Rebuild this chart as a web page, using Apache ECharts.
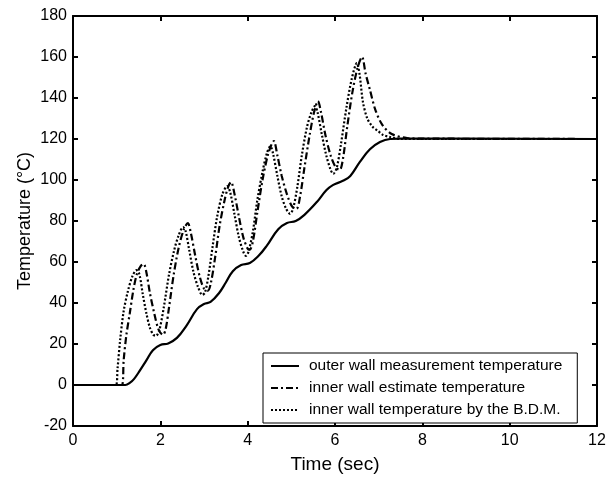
<!DOCTYPE html>
<html>
<head>
<meta charset="utf-8">
<script src="https://cdn.jsdelivr.net/npm/echarts@6/dist/echarts.min.js"></script>
<style>html,body{margin:0;padding:0;background:#fff;}#c{width:616px;height:479px;}</style>
</head>
<body>
<div id="c"></div>
<script>
const xTicks = [0, 2, 4, 6, 8, 10, 12];
const yTicks = [-20, 0, 20, 40, 60, 80, 100, 120, 140, 160, 180];
const seriesNames = [
  'outer wall measurement temperature',
  'inner wall estimate temperature',
  'inner wall temperature by the B.D.M.'
];
const outerWall = [
  [0,0],[1.2,0],[1.3,1],[1.4,3],[1.53,7],[1.68,12],[1.83,17],[2.0,19.5],[2.18,20.3],[2.38,23],[2.6,29],
  [2.84,37],[3.0,39.5],[3.15,40.5],[3.35,45],[3.5,50],[3.66,55.5],[3.85,58.5],[4.05,59.5],[4.25,63],
  [4.44,68],[4.7,76],[4.9,79],[5.1,80],[5.3,83],[5.59,89.4],[5.8,95],[5.95,97.5],[6.18,99.6],
  [6.35,102],[6.57,108.8],[6.8,115],[7.03,118.5],[7.26,120],[7.5,120.2],[12,120]
];
const innerEstimate = [
  [0,0],[1.12,0],[1.16,12],[1.22,24],[1.3,35],[1.38,46],[1.46,54],[1.55,58],[1.62,59],[1.68,55],
  [1.76,45],[1.86,35],[1.96,27],[2.06,24.5],[2.12,27],[2.2,38],[2.3,53],[2.42,67],[2.54,76],[2.63,79],
  [2.7,74],[2.8,63],[2.9,53],[3.0,47],[3.09,46],[3.16,50],[3.26,63],[3.36,78],[3.48,91],[3.56,97],
  [3.62,99],[3.7,93],[3.8,82],[3.9,72],[4.0,66.5],[4.05,66],[4.12,70],[4.22,84],[4.34,100],[4.46,112],
  [4.55,117.5],[4.6,119],[4.68,112],[4.78,102],[4.9,93],[5.02,87],[5.12,86],[5.2,92],[5.3,106],
  [5.42,122],[5.52,133],[5.61,138.5],[5.68,133],[5.78,122],[5.9,112],[6.02,106],[6.11,105],[6.18,110],
  [6.28,126],[6.4,143],[6.52,155],[6.62,160],[6.7,152],[6.8,144],[6.92,134.5],[7.08,127],[7.3,122.4],
  [7.65,120.5],[8,120.2],[12,120]
];
const innerBDM = [
  [0,0],[0.98,0],[1.02,8],[1.08,22],[1.16,36],[1.26,46],[1.36,53],[1.45,56],[1.52,54],[1.6,44],
  [1.68,35],[1.76,28],[1.84,24.5],[1.9,24],[1.98,27],[2.08,38],[2.2,54],[2.32,66],[2.42,73],[2.52,77],
  [2.58,75],[2.66,66],[2.76,55],[2.86,48],[2.96,44],[3.02,45],[3.1,53],[3.2,68],[3.3,82],[3.42,93],
  [3.53,97],[3.6,94],[3.7,83],[3.8,72],[3.9,65],[3.96,63],[4.02,65],[4.12,75],[4.22,90],[4.34,104],
  [4.44,113],[4.52,116.5],[4.58,113],[4.68,102],[4.78,92],[4.88,86],[4.97,83.5],[5.04,86],[5.14,97],
  [5.24,112],[5.36,126],[5.46,133],[5.54,136],[5.6,133],[5.7,122],[5.8,112],[5.9,105],[5.96,103],
  [6.04,106],[6.14,118],[6.26,135],[6.38,149],[6.5,157],[6.56,152],[6.64,138],[6.74,130],[6.86,126],
  [6.98,124],[7.1,122],[7.26,121],[7.5,120],[12,120]
];

const FONT = '"Liberation Sans", Arial, sans-serif';
const NARROW = '"Liberation Sans Narrow", "Liberation Sans", Arial, sans-serif';
const chart = echarts.init(document.getElementById('c'), null, {renderer: 'canvas'});
function axisCommon() {
  return {
    axisLine: {show: true, onZero: false, lineStyle: {color: '#000', width: 2}},
    axisTick: {show: true, inside: true, length: 5, lineStyle: {color: '#000', width: 2}},
    splitLine: {show: false}
  };
}
chart.setOption({
  animation: false,
  backgroundColor: '#fff',
  grid: {left: 73, right: 19, top: 16, bottom: 50, containLabel: false},
  legend: {
    orient: 'vertical',
    left: 263, top: 353,
    backgroundColor: '#fff',
    borderColor: '#000', borderWidth: 1, borderRadius: 0,
    padding: [5, 15, 5, 7],
    itemGap: 6,
    itemWidth: 28, itemHeight: 14,
    itemStyle: {opacity: 0},
    textStyle: {fontFamily: FONT, fontSize: 15.5, color: '#000', padding: [0, 0, 0, 5]},
    data: seriesNames
  },
  xAxis: [
    Object.assign({
      type: 'value', min: 0, max: 12, interval: 2, position: 'bottom',
      name: 'Time (sec)', nameLocation: 'middle', nameGap: 29,
      nameTextStyle: {fontFamily: FONT, fontSize: 19, color: '#000'},
      axisLabel: {fontFamily: NARROW, fontSize: 16, color: '#000', margin: 7,
        formatter: v => xTicks.includes(v) ? String(v) : ''}
    }, axisCommon()),
    Object.assign({
      type: 'value', min: 0, max: 12, interval: 2, position: 'top',
      axisLabel: {show: false}
    }, axisCommon())
  ],
  yAxis: [
    Object.assign({
      type: 'value', min: -20, max: 180, interval: 20, position: 'left',
      name: 'Temperature (°C)', nameLocation: 'middle', nameGap: 39, nameMoveOverlap: false,
      nameTextStyle: {fontFamily: FONT, fontSize: 18, color: '#000'},
      axisLabel: {fontFamily: NARROW, fontSize: 16, color: '#000', margin: 6,
        formatter: v => yTicks.includes(v) ? String(v) : ''}
    }, axisCommon()),
    Object.assign({
      type: 'value', min: -20, max: 180, interval: 20, position: 'right',
      axisLabel: {show: false}
    }, axisCommon())
  ],
  series: [
    {name: seriesNames[0], type: 'line', data: outerWall, showSymbol: false, symbol: 'none', smooth: 0.4,
      lineStyle: {color: '#000', width: 2.2, type: 'solid'}, itemStyle: {color: '#000'}},
    {name: seriesNames[1], type: 'line', data: innerEstimate, showSymbol: false, symbol: 'none', smooth: 0.3,
      lineStyle: {color: '#000', width: 2.2, type: [7, 3, 2, 3]}, itemStyle: {color: '#000'}},
    {name: seriesNames[2], type: 'line', data: innerBDM, showSymbol: false, symbol: 'none', smooth: 0.3,
      lineStyle: {color: '#000', width: 2.2, type: [2, 2]}, itemStyle: {color: '#000'}}
  ]
});
</script>
</body>
</html>
